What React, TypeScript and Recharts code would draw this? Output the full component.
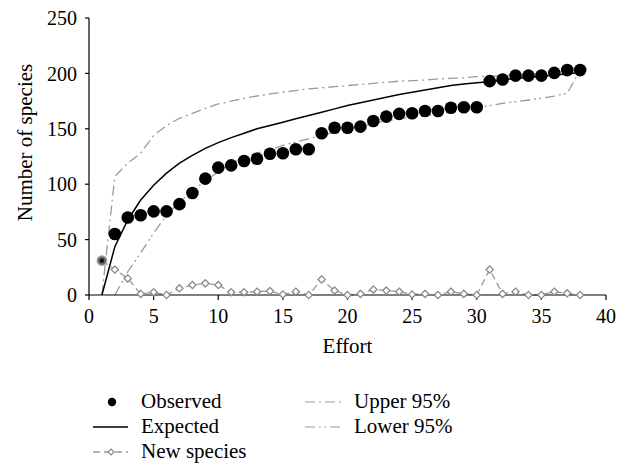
import React from "react";
import { ComposedChart, Line, XAxis, YAxis, Legend } from "recharts";

const effort = [1, 2, 3, 4, 5, 6, 7, 8, 9, 10, 11, 12, 13, 14, 15, 16, 17, 18, 19, 20, 21, 22, 23, 24, 25, 26, 27, 28, 29, 30, 31, 32, 33, 34, 35, 36, 37, 38];
const observed = [31, 55, 70, 72, 75.5, 75.5, 82, 92, 105, 115, 117, 121, 123, 127.5, 128, 131.5, 131.5, 146, 151, 151, 152, 157, 161, 163.5, 164, 166, 166, 169, 169.5, 169.5, 193, 194.5, 198, 198, 198, 200.5, 203, 203];
const expected = [0, 43.6, 67.7, 85.7, 99, 110, 119, 126, 132.4, 137.5, 142, 146, 150, 153, 156, 159, 162, 165, 168, 171, 173.5, 176, 178.5, 181, 183, 185, 187, 189, 190.5, 191.5, 192.5, 194, 195.5, 196.5, 197.5, 198.5, 199.5, 201];
const upper95 = [0, 107, 119, 128, 144, 153, 159.5, 164, 168.5, 172.4, 175, 177.5, 179.6, 181.5, 183, 184.5, 186, 187, 188, 189, 190, 191, 192, 193, 193.5, 194, 195, 195.5, 196, 197, 197.5, 198, 199, 199.5, 200, 200.5, 201.5, 203];
const lower95 = [null, 0, 21, 38, 56, 72, 84, 94, 103, 111, 119, 124, 128, 131, 135, 138, 141, 144, 147, 150, 152, 155, 157, 159, 161, 162, 163.5, 165, 167, 169, 171, 173, 174.5, 176, 177.5, 179.5, 182, 203];
const newSpecies = [31, 23, 15, 1, 2.5, 0, 6, 9, 10.5, 9, 2.5, 2.5, 3, 3.5, 0.5, 3, 0, 14, 4, 0, 1, 5, 4, 3, 0.5, 1, 0, 3, 1, 0, 23, 1, 3, 0, 0, 3, 1.5, 0];

const xTicks = [0, 5, 10, 15, 20, 25, 30, 35, 40];
const yTicks = [0, 50, 100, 150, 200, 250];

const data = effort.map((e, i) => ({
  effort: e,
  observed: observed[i],
  expected: expected[i],
  upper: upper95[i],
  lower: lower95[i],
  newSpecies: newSpecies[i],
}));

const FONT = '"Liberation Serif", "DejaVu Serif", serif';
const GREY = "#9a9a9a";
const UPPER_DASH = "10 4 2 4";
const LOWER_DASH = "10 4 2 3 2 4";
const NEW_DASH = "7 4";

const ObservedDot = (props: any) => {
  const { cx, cy, index } = props;
  if (cx == null || cy == null) return <g key={`o${index}`} />;
  if (index === 0) {
    return (
      <g key={`o${index}`}>
        <circle cx={cx} cy={cy} r={4.8} fill="#666" stroke="#aaa" strokeWidth={1.2} />
        <circle cx={cx} cy={cy} r={2.2} fill="#111" />
      </g>
    );
  }
  return <circle key={`o${index}`} cx={cx} cy={cy} r={6.3} fill="#000" />;
};

const DiamondDot = (props: any) => {
  const { cx, cy, index } = props;
  if (cx == null || cy == null || index === 0) return <g key={`d${index}`} />;
  const s = 3.6;
  return (
    <polygon
      key={`d${index}`}
      points={`${cx},${cy - s} ${cx + s},${cy} ${cx},${cy + s} ${cx - s},${cy}`}
      fill="#fff"
      stroke="#8a8a8a"
      strokeWidth={1.3}
    />
  );
};

const LegendContent = () => (
  <svg width={626} height={86} style={{ display: "block" }}>
    <g style={{ fontFamily: FONT, fontSize: 21 }} fill="#000">
      <circle cx={112} cy={22} r={4.2} fill="#000" />
      <text x={141} y={28}>Observed</text>
      <line x1={93} x2={128} y1={47} y2={47} stroke="#000" strokeWidth={1.5} />
      <text x={141} y={53}>Expected</text>
      <line x1={93} x2={128} y1={72} y2={72} stroke={GREY} strokeWidth={1.3} strokeDasharray={NEW_DASH} />
      <polygon points="111,69 114,72 111,75 108,72" fill="#fff" stroke="#8a8a8a" strokeWidth={1.2} />
      <text x={141} y={78}>New species</text>
      <line x1={305} x2={343} y1={22} y2={22} stroke={GREY} strokeWidth={1.2} strokeDasharray={UPPER_DASH} />
      <text x={354} y={28}>Upper 95%</text>
      <line x1={305} x2={343} y1={47} y2={47} stroke={GREY} strokeWidth={1.2} strokeDasharray={LOWER_DASH} />
      <text x={354} y={53}>Lower 95%</text>
    </g>
  </svg>
);

const YLabel = (props: any) => {
  const vb = props.viewBox || { x: 0, y: 18, width: 89, height: 277 };
  const x = vb.x + 32;
  const y = vb.y + vb.height / 2 - 14;
  return (
    <text x={x} y={y} transform={`rotate(-90, ${x}, ${y})`} textAnchor="middle" style={{ fontFamily: FONT, fontSize: 21 }} fill="#000">
      Number of species
    </text>
  );
};

const XLabel = (props: any) => {
  const vb = props.viewBox || { x: 89, y: 295, width: 517, height: 60 };
  const x = vb.x + vb.width / 2;
  const y = vb.y + 58;
  return (
    <text x={x} y={y} textAnchor="middle" style={{ fontFamily: FONT, fontSize: 21 }} fill="#000">
      Effort
    </text>
  );
};

export default function App() {
  return (
    <div style={{ position: "absolute", left: 0, top: 0, width: 626, height: 466, background: "#fff", fontFamily: FONT }}>
      <ComposedChart width={626} height={466} data={data} margin={{ top: 18, right: 20, left: 0, bottom: 111 }} style={{ fontFamily: FONT }}>
        <XAxis
          dataKey="effort"
          type="number"
          domain={[0, 40]}
          ticks={xTicks}
          interval={0}
          height={60}
          axisLine={{ stroke: "#000", strokeWidth: 1.2 }}
          tickLine={{ stroke: "#000", strokeWidth: 1.2 }}
          tickSize={5}
          tickMargin={9}
          tick={{ fill: "#000", fontSize: 20, style: { fontFamily: FONT } }}
          label={<XLabel />}
        />
        <YAxis
          type="number"
          domain={[0, 250]}
          ticks={yTicks}
          interval={0}
          width={89}
          axisLine={{ stroke: "#000", strokeWidth: 1.2 }}
          tickLine={{ stroke: "#000", strokeWidth: 1.2 }}
          tickSize={4}
          tickMargin={8}
          tick={{ fill: "#000", fontSize: 20, style: { fontFamily: FONT } }}
          label={<YLabel />}
        />
        <Legend
          layout="horizontal"
          verticalAlign="middle"
          align="center"
          content={<LegendContent />}
          wrapperStyle={{ position: "absolute", left: 0, top: 380, width: 626, height: 86 }}
        />
        <Line dataKey="upper" name="Upper 95%" type="linear" stroke={GREY} strokeWidth={1.3} strokeDasharray={UPPER_DASH} dot={false} activeDot={false} isAnimationActive={false} />
        <Line dataKey="lower" name="Lower 95%" type="linear" stroke={GREY} strokeWidth={1.3} strokeDasharray={LOWER_DASH} dot={false} activeDot={false} isAnimationActive={false} />
        <Line dataKey="newSpecies" name="New species" type="linear" stroke={GREY} strokeWidth={1.3} strokeDasharray={NEW_DASH} dot={DiamondDot} activeDot={false} isAnimationActive={false} />
        <Line dataKey="expected" name="Expected" type="linear" stroke="#000" strokeWidth={1.5} dot={false} activeDot={false} isAnimationActive={false} />
        <Line dataKey="observed" name="Observed" type="linear" stroke="none" strokeWidth={0} dot={ObservedDot} activeDot={false} isAnimationActive={false} />
      </ComposedChart>
    </div>
  );
}
